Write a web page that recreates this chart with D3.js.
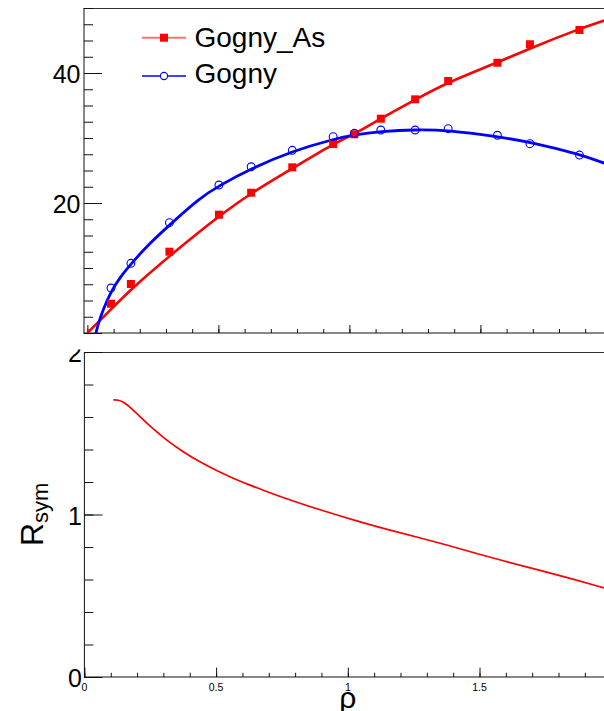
<!DOCTYPE html>
<html><head><meta charset="utf-8">
<script src="https://cdn.jsdelivr.net/npm/d3@7"></script>
<style>
body{margin:0;background:#fff}
svg{display:block;font-family:"Liberation Sans",Arial,Helvetica,sans-serif}
</style></head>
<body>
<svg id="c" width="604" height="711"></svg>
<script>
// ---------- data ----------
const rhoPoints   = [0.090,0.166,0.313,0.502,0.625,0.782,0.938,1.019,1.120,1.251,1.377,1.565,1.689,1.878];
const gognyAsPts  = [4.51,7.54,12.51,18.2,21.58,25.49,29.08,30.57,32.97,35.95,38.77,41.58,44.42,46.62];
const gognyPts    = [6.92,10.72,16.97,22.77,25.58,28.11,30.2,30.72,31.23,31.23,31.43,30.42,29.12,27.38];

const gognyAsCurveRho = [0,0.093,0.166,0.313,0.502,0.625,0.782,0.938,1.019,1.120,1.251,1.377,1.565,1.689,1.878,1.975];
const gognyAsCurve    = [0,3.77,6.72,11.85,18.0,21.54,25.3,29.1,30.6,33.0,35.9,38.6,41.6,43.8,46.8,48.1];
const gognyCurveRho   = [0.0325,0.045,0.060,0.090,0.125,0.166,0.230,0.313,0.430,0.500,0.625,0.782,0.938,1.019,1.120,1.251,1.377,1.565,1.689,1.878,1.975];
const gognyCurve      = [0,1.9,3.6,6.4,8.6,10.6,13.5,16.6,20.8,22.6,25.3,28.0,29.8,30.5,31.0,31.3,31.2,30.2,29.4,27.5,26.1];

const rsymRho = [0.110,0.129,0.148,0.186,0.224,0.262,0.312,0.375,0.439,0.502,0.565,0.629,0.692,0.781,0.907,1.034,1.160,1.287,1.388,1.476,1.603,1.730,1.856,1.973];
const rsymVal = [1.705,1.705,1.694,1.643,1.582,1.525,1.457,1.385,1.323,1.270,1.223,1.180,1.141,1.089,1.022,0.960,0.903,0.851,0.807,0.766,0.709,0.657,0.602,0.548];

const topYLabels = [20,40];
const botYLabels = [0,1,2];
const xLabels    = [0,0.5,1,1.5];
const seriesNames = ["Gogny_As","Gogny"];

// ---------- layout ----------
const svg = d3.select("#c");
const RED="#ff0000", BLUE="#0000ff", AX="#111";

const xTop = d3.scaleLinear().domain([0,2]).range([87.4, 87.4+524]);
const yTop = d3.scaleLinear().domain([0,50]).range([333,8]);
const xBot = d3.scaleLinear().domain([0,2]).range([84.4, 84.4+526.8]);
const yBot = d3.scaleLinear().domain([0,2]).range([677,352]);

const defs = svg.append("defs");
defs.append("clipPath").attr("id","clipTop").append("rect")
  .attr("x",84).attr("y",8).attr("width",540).attr("height",325);
defs.append("clipPath").attr("id","clipBotPad").append("rect")
  .attr("x",0).attr("y",349.5).attr("width",604).attr("height",362);
defs.append("clipPath").attr("id","clipBot").append("rect")
  .attr("x",84).attr("y",352).attr("width",540).attr("height",325);

function styleAxis(g){
  g.select(".domain").remove();
  g.selectAll(".tick line").attr("stroke",AX).attr("stroke-width",1);
}

// ---------- top pad ----------
const topPad = svg.append("g");
topPad.append("line").attr("x1",84).attr("x2",84).attr("y1",8).attr("y2",333.5).attr("stroke",AX);
topPad.append("line").attr("x1",83.5).attr("x2",604).attr("y1",8.5).attr("y2",8.5).attr("stroke","#333");
topPad.append("line").attr("x1",83.5).attr("x2",604).attr("y1",333).attr("y2",333).attr("stroke",AX);

topPad.append("g").attr("transform","translate(0,333)")
  .call(d3.axisTop(xTop).tickValues(d3.range(0,2.31,0.1)).tickSize(4).tickFormat(""))
  .call(styleAxis);
topPad.append("g").attr("transform","translate(0,333)")
  .call(d3.axisTop(xTop).tickValues([0,0.5,1,1.5,2]).tickSize(8).tickFormat(""))
  .call(styleAxis);
topPad.append("g").attr("transform","translate(84,0)")
  .call(d3.axisRight(yTop).tickValues(d3.range(0,50.01,2.5)).tickSize(9).tickFormat(""))
  .call(styleAxis);
topPad.append("g").attr("transform","translate(84,0)")
  .call(d3.axisRight(yTop).tickValues([0,20,40]).tickSize(18).tickFormat(""))
  .call(styleAxis);
topPad.selectAll(".ylab").data(topYLabels).enter().append("text")
  .attr("x",80.5).attr("y",d=>yTop(d)+10).attr("text-anchor","end")
  .attr("font-size",25).attr("fill","#000").text(d=>d);

const curves = topPad.append("g").attr("clip-path","url(#clipTop)");
const lineTop = d3.line().x(d=>xTop(d[0])).y(d=>yTop(d[1])).curve(d3.curveBasis);
curves.append("path").datum(d3.zip(gognyAsCurveRho,gognyAsCurve))
  .attr("d",lineTop).attr("fill","none").attr("stroke",RED).attr("stroke-width",2.6);
curves.append("path").datum(d3.zip(gognyCurveRho,gognyCurve))
  .attr("d",lineTop).attr("fill","none").attr("stroke",BLUE).attr("stroke-width",2.8);
curves.selectAll(".sq").data(d3.zip(rhoPoints,gognyAsPts)).enter().append("rect")
  .attr("x",d=>xTop(d[0])-4).attr("y",d=>yTop(d[1])-4).attr("width",8).attr("height",8)
  .attr("fill",RED);
curves.selectAll(".ci").data(d3.zip(rhoPoints,gognyPts)).enter().append("circle")
  .attr("cx",d=>xTop(d[0])).attr("cy",d=>yTop(d[1])).attr("r",3.9)
  .attr("fill","none").attr("stroke",BLUE).attr("stroke-width",1.1);

// legend
const leg = topPad.append("g");
leg.append("line").attr("x1",142).attr("x2",186).attr("y1",37.7).attr("y2",37.7)
  .attr("stroke","#ff7070").attr("stroke-width",2);
leg.append("rect").attr("x",160).attr("y",33.7).attr("width",8).attr("height",8).attr("fill",RED);
leg.append("text").attr("x",194.5).attr("y",46.5).attr("font-size",28).attr("fill","#000").text(seriesNames[0]);
leg.append("line").attr("x1",142).attr("x2",186).attr("y1",76).attr("y2",76)
  .attr("stroke",BLUE).attr("stroke-width",1.4);
leg.append("circle").attr("cx",164).attr("cy",76).attr("r",3.6)
  .attr("fill","#fff").attr("stroke",BLUE).attr("stroke-width",1.1);
leg.append("text").attr("x",194.5).attr("y",83).attr("font-size",28).attr("fill","#000").text(seriesNames[1]);

// ---------- bottom pad ----------
const botPad = svg.append("g").attr("clip-path","url(#clipBotPad)");
botPad.append("line").attr("x1",84.4).attr("x2",84.4).attr("y1",352).attr("y2",677.5).attr("stroke",AX);
botPad.append("line").attr("x1",84).attr("x2",604).attr("y1",352.5).attr("y2",352.5).attr("stroke","#333");
botPad.append("line").attr("x1",84).attr("x2",604).attr("y1",677).attr("y2",677).attr("stroke",AX);

botPad.append("g").attr("transform","translate(0,677)")
  .call(d3.axisTop(xBot).tickValues(d3.range(0,2.31,0.1)).tickSize(4.2).tickFormat(""))
  .call(styleAxis);
botPad.append("g").attr("transform","translate(0,677)")
  .call(d3.axisTop(xBot).tickValues([0,0.5,1,1.5,2]).tickSize(9.4).tickFormat(""))
  .call(styleAxis);
botPad.append("g").attr("transform","translate(84.4,0)")
  .call(d3.axisRight(yBot).tickValues(d3.range(0,2.01,0.2)).tickSize(9).tickFormat(""))
  .call(styleAxis);
botPad.append("g").attr("transform","translate(84.4,0)")
  .call(d3.axisRight(yBot).tickValues([0,1,2]).tickSize(18).tickFormat(""))
  .call(styleAxis);
botPad.selectAll(".ylab").data(botYLabels).enter().append("text")
  .attr("x",82).attr("y",d=>yBot(d)+10).attr("text-anchor","end")
  .attr("font-size",25).attr("fill","#000").text(d=>d);
botPad.selectAll(".xlab").data(xLabels).enter().append("text")
  .attr("x",d=>xBot(d)).attr("y",690.5).attr("text-anchor","middle")
  .attr("font-size",10.5).attr("fill","#000").text(d=>d);

const lineBot = d3.line().x(d=>xBot(d[0])).y(d=>yBot(d[1])).curve(d3.curveBasis);
botPad.append("g").attr("clip-path","url(#clipBot)").append("path")
  .datum(d3.zip(rsymRho,rsymVal)).attr("d",lineBot)
  .attr("fill","none").attr("stroke",RED).attr("stroke-width",1.7);

// axis titles
const yt = svg.append("text").attr("transform","translate(43,546) rotate(-90)").attr("fill","#000");
yt.append("tspan").attr("font-size",32).text("R");
yt.append("tspan").attr("font-size",22).attr("dy",4.5).text("sym");
svg.append("text").attr("x",xBot(1)).attr("y",707.5).attr("text-anchor","middle")
  .attr("font-size",30).attr("fill","#000").text("ρ");
</script>
</body></html>
